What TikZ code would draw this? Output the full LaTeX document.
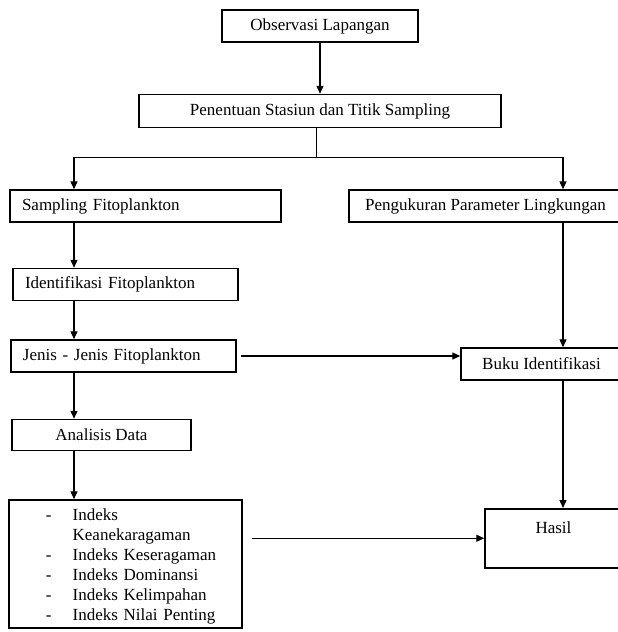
\documentclass[tikz,border=0pt]{standalone}
\usepackage{fontspec}
\setmainfont{Liberation Serif}
\usetikzlibrary{arrows.meta,
                positioning}
\tikzstyle{arrow} = [line width=1.4pt,->,>={Triangle[length=8pt,width=7pt]}]
\tikzstyle{branch} = [line width=0.8pt]
\tikzstyle{box} = [draw, line width=1.5pt, minimum height=32pt, inner xsep=12pt, inner ysep=2pt]
\tikzstyle{lbox} = [box, align=left]

\begin{document}
\begin{tikzpicture}[x=1pt,y=-1pt,font=\fontsize{17}{20}\selectfont]
    \useasboundingbox (0,0) rectangle (618,632);

    \node[box, minimum width=196pt] (obs) at (320,26) {Observasi Lapangan};
    \node[box, minimum width=362pt, minimum height=33pt] (pen) [below=51pt of obs] {Penentuan Stasiun dan Titik Sampling};

    % left column
    \node[lbox, text width=247pt] (samp) at (145.5,206) {Sampling Fitoplankton};
    \node[lbox, text width=201pt] (ident) [below=45pt of samp.south west, anchor=north west, xshift=3pt] {Identifikasi Fitoplankton};
    \node[lbox, text width=201pt] (jenis) [below=38pt of ident.south west, anchor=north west, xshift=-2pt] {Jenis - Jenis Fitoplankton};
    \node[box, minimum width=179pt, minimum height=31pt] (anal) [below=46pt of jenis.south west, anchor=north west, xshift=1pt] {Analisis Data};
    \node[lbox, text width=233pt, minimum height=126pt, inner xsep=0pt, inner ysep=1.5pt] (idx) [below=48pt of anal.south west, anchor=north west, xshift=-3pt] {%
      \begin{tabular}{@{\hspace{37pt}}l@{\hspace{21pt}}l@{}}
        -\rule{0pt}{19pt} & Indeks\\
          & Keanekaragaman\\
        - & Indeks Keseragaman\\
        - & Indeks Dominansi\\
        - & Indeks Kelimpahan\\
        - & Indeks Nilai Penting
      \end{tabular}};

    % right column (runs past the right edge)
    \node[box, minimum width=273pt] (peng) at (485.5,206) {Pengukuran Parameter Lingkungan};
    \node[box, minimum width=161pt] (buku) at (541.5,364) {Buku Identifikasi};
    \node[box, minimum width=137pt, anchor=north, text height=21pt, text depth=30pt, inner ysep=4pt] (hasil) at (553.5,508) {Hasil};

    \coordinate (split) at (316,157);
    \coordinate (bl) at (74,157);
    \coordinate (br) at (563,157);

    \draw [arrow] (obs) -- (pen);
    \draw [branch] (pen.south -| split) -- (split);
    \draw [branch] (bl) -- (br);
    \draw [arrow] (bl) -- (bl |- samp.north);
    \draw [arrow] (br) -- (br |- peng.north);

    \draw [arrow] (samp.south -| bl) -- (ident.north -| bl);
    \draw [arrow] (ident.south -| bl) -- (jenis.north -| bl);
    \draw [arrow] (jenis.south -| bl) -- (anal.north -| bl);
    \draw [arrow] (anal.south -| bl) -- (idx.north -| bl);

    \draw [arrow] (peng.south -| br) -- (buku.north -| br);
    \draw [arrow] (buku.south -| br) -- (hasil.north -| br);

    \draw [arrow, shorten <=4pt] (jenis.east) -- (jenis.east -| buku.west);
    \draw [arrow, shorten <=9pt] (hasil.west -| idx.east) -- (hasil.west);
\end{tikzpicture}
\end{document}
